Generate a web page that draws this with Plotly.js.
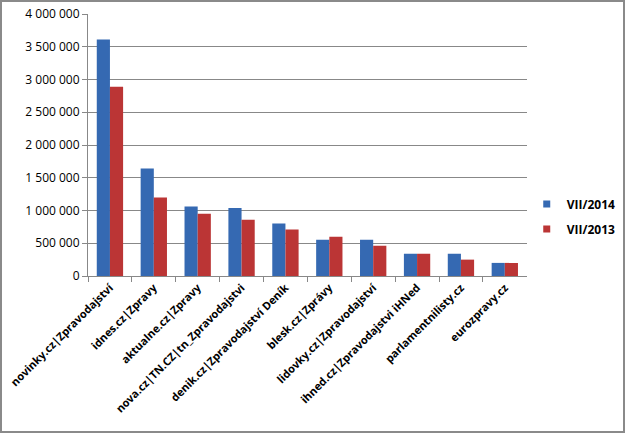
<!DOCTYPE html>
<html><head><meta charset="utf-8">
<script src="https://cdn.plot.ly/plotly-3.0.1.min.js"></script>
<style>
html,body{margin:0;padding:0;background:#fff;}
#wrap{position:absolute;left:0;top:0;width:625px;height:433px;box-sizing:border-box;border:2px solid #8a8a8a;background:#fff;}
#chart{position:absolute;left:0;top:0;width:621px;height:429px;}
</style></head>
<body><div id="wrap"><div id="chart"></div></div>
<script>
const categories = ["novinky.cz|Zpravodajství","idnes.cz|Zpravy","aktualne.cz|Zpravy","nova.cz|TN.CZ|tn_Zpravodajstvi","denik.cz|Zpravodajství Deník","blesk.cz|Zprávy","lidovky.cz|Zpravodajství","ihned.cz|Zpravodajstvi iHNed","parlamentnilisty.cz","eurozpravy.cz"];
const series2014 = [3610000,1640000,1060000,1040000,800000,555000,555000,340000,340000,200000];
const series2013 = [2890000,1200000,950000,860000,710000,600000,460000,340000,250000,200000];
const seriesNames = ["VII/2014","VII/2013"];
const seriesColors = ['#3569b2','#bb3535'];
const yTicks = [0,500000,1000000,1500000,2000000,2500000,3000000,3500000,4000000];

const traces = [
  {type:'bar', name:seriesNames[0], x:categories, y:series2014, marker:{color:seriesColors[0]}, showlegend:false},
  {type:'bar', name:seriesNames[1], x:categories, y:series2013, marker:{color:seriesColors[1]}, showlegend:false},
  {type:'scatter', mode:'markers', name:seriesNames[0], x:[null], y:[null], marker:{symbol:'square', size:7, color:seriesColors[0]}, legendgroup:'a'},
  {type:'scatter', mode:'markers', name:seriesNames[1], x:[null], y:[null], marker:{symbol:'square', size:7, color:seriesColors[1]}, legendgroup:'b'}
];
const layout = {
  width:621, height:429,
  margin:{l:86,r:93,t:12,b:155},
  paper_bgcolor:'rgba(0,0,0,0)', plot_bgcolor:'#fff',
  separators:', ',
  barmode:'group', bargap:0.4, bargroupgap:0,
  font:{family:'"Open Sans", "Liberation Sans", sans-serif', size:12, color:'#000'},
  showlegend:true,
  legend:{xref:'container', yref:'container', x:0.845, y:0.5, xanchor:'left', yanchor:'middle', font:{size:12, family:'"Open Sans", sans-serif', weight:'bold'}, tracegroupgap:6, itemwidth:30, bgcolor:'rgba(0,0,0,0)'},
  xaxis:{type:'category', tickangle:-45, tickfont:{size:11, weight:'bold'}, showline:true, linecolor:'#888', linewidth:1, ticks:'outside', tickson:'boundaries', ticklen:5, tickcolor:'#888', showgrid:false, automargin:false},
  yaxis:{range:[0,4000000], tickvals:yTicks, tickformat:',d', showgrid:true, gridcolor:'#888', gridwidth:1, showline:true, linecolor:'#888', ticks:'outside', ticklen:5, tickcolor:'#888', zeroline:false, tickfont:{size:12}, automargin:false}
};
Plotly.newPlot('chart', traces, layout, {displayModeBar:false, staticPlot:true});
</script></body></html>
